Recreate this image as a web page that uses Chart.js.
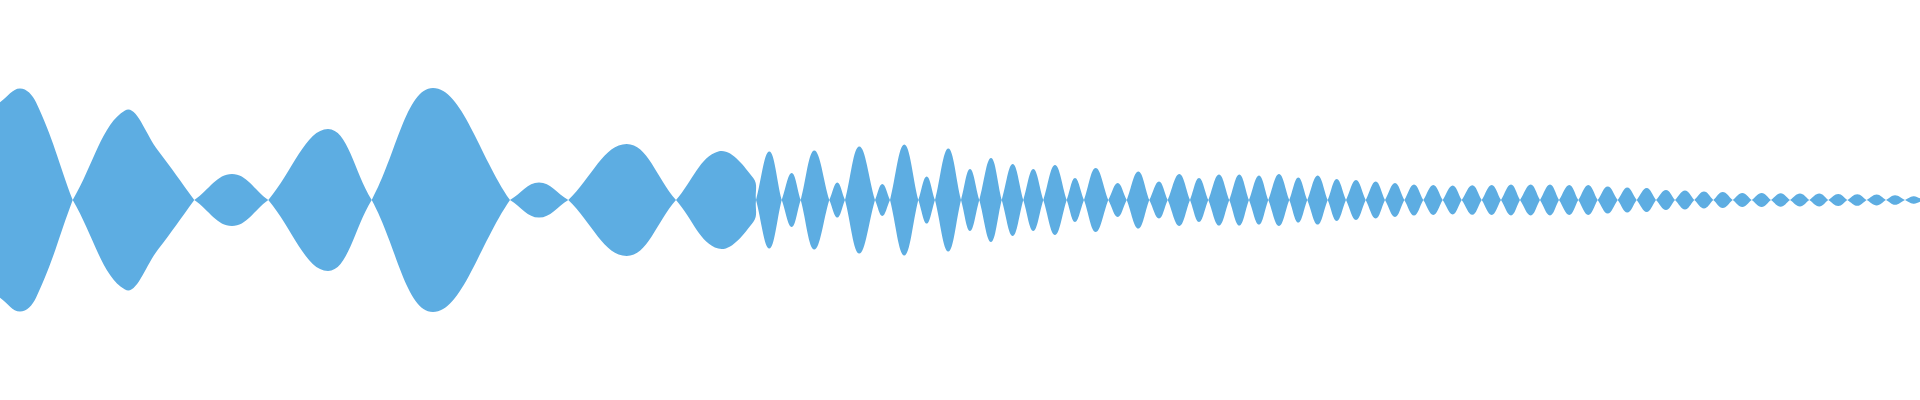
<!DOCTYPE html>
<html>
<head>
<meta charset="utf-8">
<title>Waveform</title>
<script src="https://cdn.jsdelivr.net/npm/chart.js@4.4.1/dist/chart.umd.min.js"></script>
<style>
  html, body { margin: 0; padding: 0; background: #ffffff; }
  #wave { display: block; }
</style>
</head>
<body>
<canvas id="wave" width="1920" height="400"></canvas>
<script>
// sample positions along the track (0 - 1920) and envelope level (0 - 100)
// a level of 0 marks a zero crossing between two lobes
const times = [
    0, 20, 36, 72.7, 125, 158, 194.3, 232, 268.3, 328, 371.7, 433, 510,
    539, 568.3, 626.7, 676, 718.3, 753.3, 756, 769.3, 781.7, 791.7, 800.7,
    814.3, 829.3, 837.3, 845, 859.3, 875, 882.3, 890, 904.3, 918.3, 926.7, 935,
    948.3, 961, 970, 979.3, 991, 1001.7, 1012.7, 1023.3, 1033.3, 1043.3,
    1055, 1066.7, 1075, 1084, 1095.7, 1108.3, 1117.7, 1126.7, 1138.3, 1149.3,
    1159, 1167.7, 1179.3, 1190, 1199, 1208.3, 1219, 1229.3, 1239.3, 1249,
    1259, 1268.3, 1279, 1289.3, 1298.3, 1307.3, 1317.7, 1327.7, 1336.7, 1346,
    1356, 1365.7, 1375.7, 1385, 1395, 1404.3, 1414, 1423.3, 1433.3, 1442.7,
    1452.7, 1461.7, 1472.3, 1481.7, 1491.7, 1501, 1511, 1520, 1530.7, 1540,
    1550, 1559, 1569.3, 1578.3, 1588.3, 1597.7, 1607.7, 1617.7, 1627.3, 1636.7,
    1646.7, 1656, 1666, 1675, 1685, 1694.3, 1704, 1713.3, 1722.7, 1732.7,
    1742.3, 1751.7, 1761.7, 1771, 1780.7, 1790, 1800, 1809.3, 1819.3, 1828.3,
    1838.3, 1847.3, 1857.3, 1866.7, 1876.7, 1886, 1895, 1905, 1913.3, 1920
];
const levels = [
    48.9, 55.8, 48.9, 0, 44.8, 24.8, 0, 13, 0, 35.5, 0, 56, 0,
    8.8, 0, 28, 0, 24.3, 11, 0, 24.3, 0, 13.5, 0,
    24.8, 0, 8.8, 0, 26.8, 0, 8, 0, 27.8, 0, 11.8, 0,
    25.8, 0, 15.5, 0, 21, 0, 18, 0, 15.5, 0,
    17.5, 0, 11, 0, 16, 0, 8.5, 0, 14.3, 0,
    9.3, 0, 13, 0, 11, 0, 12.8, 0, 12.8, 0,
    12.3, 0, 13, 0, 11.3, 0, 12.3, 0, 10.5, 0,
    10, 0, 9.3, 0, 8.5, 0, 7.8, 0, 7.5, 0,
    7.2, 0, 7.4, 0, 7.5, 0, 7.7, 0, 7.7, 0,
    7.7, 0, 7.5, 0, 7.5, 0, 6.8, 0, 6.3, 0,
    6, 0, 5, 0, 4.7, 0, 4.2, 0, 4, 0,
    3.5, 0, 3.5, 0, 3.4, 0, 3.2, 0, 3.2, 0,
    3, 0, 2.9, 0, 2.7, 0, 2.4, 0, 1.9, 0.9
];
const waveColor = '#5dade2';

// zero crossings are listed twice so the curve turns sharply there
function buildEnvelope(sign) {
    const pts = [];
    times.forEach((t, i) => {
        pts.push({ x: t, y: sign * levels[i] });
        if (levels[i] === 0) pts.push({ x: t, y: 0 });
    });
    return pts;
}

const ctx = document.getElementById('wave').getContext('2d');
new Chart(ctx, {
    type: 'line',
    data: {
        datasets: [
            {
                data: buildEnvelope(1),
                fill: false,
                borderWidth: 0,
                pointRadius: 0,
                tension: 0.4
            },
            {
                // mirrored lower edge, filled up to the upper edge
                data: buildEnvelope(-1),
                fill: '-1',
                backgroundColor: waveColor,
                borderWidth: 0,
                pointRadius: 0,
                tension: 0.4
            }
        ]
    },
    options: {
        responsive: false,
        animation: false,
        devicePixelRatio: 1,
        layout: { padding: 0 },
        plugins: {
            legend: { display: false },
            tooltip: { enabled: false }
        },
        scales: {
            x: { type: 'linear', min: 0, max: 1920, display: false },
            y: { min: -100, max: 100, display: false }
        }
    }
});
</script>
</body>
</html>
